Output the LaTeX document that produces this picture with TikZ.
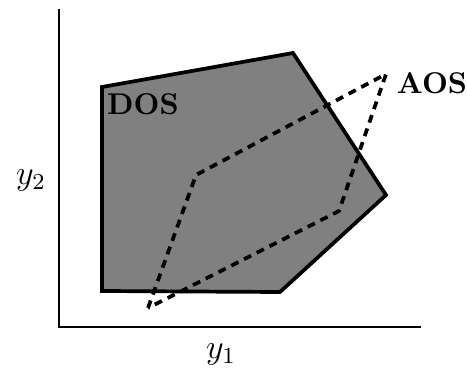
\documentclass[tikz,border=0pt]{standalone}
\usepackage{amsmath,amssymb}
\usetikzlibrary{arrows}

\begin{document}
\begin{tikzpicture}[x=0.35pt,y=-0.35pt]
\useasboundingbox (0,0) rectangle (467,383);

\coordinate (O) at (59,327);
\coordinate (Y2) at (59,9);
\coordinate (Y1) at (421,327);

\draw[line width=0.8pt] (Y2) -- (O) -- (Y1);

\coordinate (D1) at (102,87);
\coordinate (D2) at (293,53);
\coordinate (D3) at (386,195);
\coordinate (D4) at (280,292);
\coordinate (D5) at (102,291);

\coordinate (A1) at (148,308);
\coordinate (A2) at (196,175);
\coordinate (A3) at (386,74);
\coordinate (A4) at (339,211);

\filldraw[fill=gray, line width=1.3pt, line join=miter] (D1) -- (D2) -- (D3) -- (D4) -- (D5) -- cycle;
\draw[dash pattern=on 2.8pt off 2.2pt, line width=1.3pt] (A1) -- (A2) -- (A3) -- (A4) -- cycle;

\node[font=\fontsize{10.5}{12}\selectfont] (dos) at (143,104) {\textbf{DOS}};
\node[font=\fontsize{10.5}{12}\selectfont] (aos) at (432,83) {\textbf{AOS}};

\node[font=\large] (y2) at (31,180) {$y_2$};
\node[font=\large] (y1) at (221,354) {$y_1$};
\end{tikzpicture}
\end{document}
